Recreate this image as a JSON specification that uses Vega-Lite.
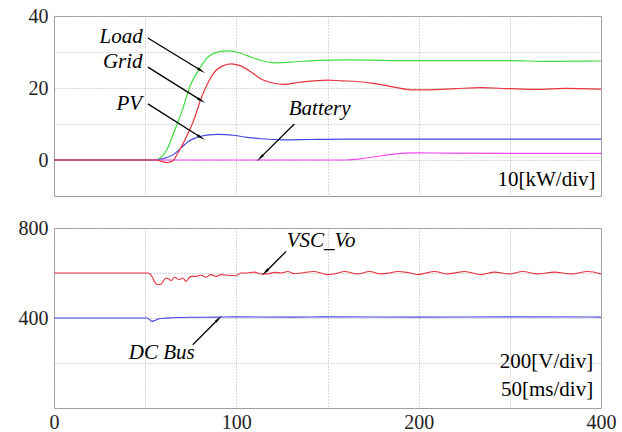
{
  "$schema": "https://vega.github.io/schema/vega-lite/v6.json",
  "resolve": {"scale": {"color": "independent"}},
  "datasets": {
    "power": [
      {"series": "Load", "t": 0, "v": 0}, {"series": "Load", "t": 55, "v": 0}, {"series": "Load", "t": 58, "v": 0.5}, {"series": "Load", "t": 62, "v": 3}, {"series": "Load", "t": 66, "v": 8}, {"series": "Load", "t": 70, "v": 13.3}, {"series": "Load", "t": 75, "v": 21}, {"series": "Load", "t": 80, "v": 25.5}, {"series": "Load", "t": 84, "v": 28.4}, {"series": "Load", "t": 88, "v": 29.7}, {"series": "Load", "t": 95, "v": 30.3}, {"series": "Load", "t": 100, "v": 30.0}, {"series": "Load", "t": 106, "v": 29}, {"series": "Load", "t": 113, "v": 27.7}, {"series": "Load", "t": 121, "v": 27.0}, {"series": "Load", "t": 130, "v": 27.2}, {"series": "Load", "t": 146, "v": 27.7}, {"series": "Load", "t": 160, "v": 27.8}, {"series": "Load", "t": 200, "v": 27.6}, {"series": "Load", "t": 250, "v": 27.6}, {"series": "Load", "t": 270, "v": 27.4}, {"series": "Load", "t": 300, "v": 27.5},
      {"series": "PV", "t": 0, "v": 0}, {"series": "PV", "t": 56, "v": 0}, {"series": "PV", "t": 60, "v": 0.4}, {"series": "PV", "t": 66, "v": 1.7}, {"series": "PV", "t": 70, "v": 3.5}, {"series": "PV", "t": 73.3, "v": 5}, {"series": "PV", "t": 77, "v": 6}, {"series": "PV", "t": 80.6, "v": 6.6}, {"series": "PV", "t": 85, "v": 7}, {"series": "PV", "t": 90, "v": 7.1}, {"series": "PV", "t": 99, "v": 6.8}, {"series": "PV", "t": 106, "v": 6.3}, {"series": "PV", "t": 113.5, "v": 5.9}, {"series": "PV", "t": 126, "v": 5.6}, {"series": "PV", "t": 140, "v": 5.7}, {"series": "PV", "t": 160, "v": 5.8}, {"series": "PV", "t": 200, "v": 5.8}, {"series": "PV", "t": 300, "v": 5.8},
      {"series": "Battery", "t": 0, "v": 0}, {"series": "Battery", "t": 160, "v": 0}, {"series": "Battery", "t": 168, "v": 0.3}, {"series": "Battery", "t": 176, "v": 0.9}, {"series": "Battery", "t": 184, "v": 1.5}, {"series": "Battery", "t": 192, "v": 1.9}, {"series": "Battery", "t": 200, "v": 2.0}, {"series": "Battery", "t": 215, "v": 1.9}, {"series": "Battery", "t": 250, "v": 1.85}, {"series": "Battery", "t": 300, "v": 1.85},
      {"series": "Grid", "t": 0, "v": 0}, {"series": "Grid", "t": 56, "v": 0}, {"series": "Grid", "t": 59, "v": -0.4}, {"series": "Grid", "t": 62, "v": -0.7}, {"series": "Grid", "t": 65, "v": -0.3}, {"series": "Grid", "t": 68, "v": 2}, {"series": "Grid", "t": 73, "v": 6.9}, {"series": "Grid", "t": 77, "v": 11.5}, {"series": "Grid", "t": 80.6, "v": 17}, {"series": "Grid", "t": 84, "v": 21}, {"series": "Grid", "t": 88, "v": 24.4}, {"series": "Grid", "t": 92, "v": 26}, {"series": "Grid", "t": 97, "v": 26.7}, {"series": "Grid", "t": 102, "v": 26.2}, {"series": "Grid", "t": 108, "v": 24.5}, {"series": "Grid", "t": 113.5, "v": 22.5}, {"series": "Grid", "t": 120, "v": 21.4}, {"series": "Grid", "t": 126, "v": 21}, {"series": "Grid", "t": 135, "v": 21.6}, {"series": "Grid", "t": 150, "v": 22.2}, {"series": "Grid", "t": 158, "v": 22.0}, {"series": "Grid", "t": 166, "v": 21.8}, {"series": "Grid", "t": 175, "v": 21.3}, {"series": "Grid", "t": 181, "v": 20.8}, {"series": "Grid", "t": 188, "v": 20.1}, {"series": "Grid", "t": 196, "v": 19.5}, {"series": "Grid", "t": 205, "v": 19.5}, {"series": "Grid", "t": 220, "v": 19.8}, {"series": "Grid", "t": 234, "v": 20.1}, {"series": "Grid", "t": 250, "v": 19.8}, {"series": "Grid", "t": 265, "v": 19.6}, {"series": "Grid", "t": 280, "v": 19.9}, {"series": "Grid", "t": 300, "v": 19.7}
    ],
    "voltage": [
      {"series": "DC Bus", "t": 0, "v": 400}, {"series": "DC Bus", "t": 51, "v": 400}, {"series": "DC Bus", "t": 52.5, "v": 392}, {"series": "DC Bus", "t": 53.5, "v": 385}, {"series": "DC Bus", "t": 55, "v": 388}, {"series": "DC Bus", "t": 57, "v": 395}, {"series": "DC Bus", "t": 60, "v": 399}, {"series": "DC Bus", "t": 65, "v": 401}, {"series": "DC Bus", "t": 75, "v": 403}, {"series": "DC Bus", "t": 90, "v": 404}, {"series": "DC Bus", "t": 100, "v": 405}, {"series": "DC Bus", "t": 130, "v": 404}, {"series": "DC Bus", "t": 150, "v": 405}, {"series": "DC Bus", "t": 200, "v": 404}, {"series": "DC Bus", "t": 250, "v": 405}, {"series": "DC Bus", "t": 300, "v": 404},
      {"series": "VSC_Vo", "t": 0, "v": 600}, {"series": "VSC_Vo", "t": 51, "v": 600}, {"series": "VSC_Vo", "t": 52.3, "v": 598}, {"series": "VSC_Vo", "t": 54, "v": 580}, {"series": "VSC_Vo", "t": 55.5, "v": 556}, {"series": "VSC_Vo", "t": 57, "v": 548}, {"series": "VSC_Vo", "t": 58.7, "v": 550}, {"series": "VSC_Vo", "t": 60, "v": 565}, {"series": "VSC_Vo", "t": 61.4, "v": 578}, {"series": "VSC_Vo", "t": 62.8, "v": 574}, {"series": "VSC_Vo", "t": 64.2, "v": 566}, {"series": "VSC_Vo", "t": 66, "v": 581}, {"series": "VSC_Vo", "t": 67.5, "v": 575}, {"series": "VSC_Vo", "t": 68.7, "v": 570}, {"series": "VSC_Vo", "t": 70.6, "v": 578}, {"series": "VSC_Vo", "t": 72.4, "v": 563}, {"series": "VSC_Vo", "t": 74, "v": 578}, {"series": "VSC_Vo", "t": 75.2, "v": 585}, {"series": "VSC_Vo", "t": 77.9, "v": 585}, {"series": "VSC_Vo", "t": 80.6, "v": 590}, {"series": "VSC_Vo", "t": 83.4, "v": 581}, {"series": "VSC_Vo", "t": 86.1, "v": 593}, {"series": "VSC_Vo", "t": 88.9, "v": 585}, {"series": "VSC_Vo", "t": 91.6, "v": 593}, {"series": "VSC_Vo", "t": 95.3, "v": 590}, {"series": "VSC_Vo", "t": 99.8, "v": 588}, {"series": "VSC_Vo", "t": 102.6, "v": 600}, {"series": "VSC_Vo", "t": 106.2, "v": 600}, {"series": "VSC_Vo", "t": 109.9, "v": 604}, {"series": "VSC_Vo", "t": 113.5, "v": 596}, {"series": "VSC_Vo", "t": 117.2, "v": 596}, {"series": "VSC_Vo", "t": 120.8, "v": 603}, {"series": "VSC_Vo", "t": 124.5, "v": 600}, {"series": "VSC_Vo", "t": 128.2, "v": 607}, {"series": "VSC_Vo", "t": 131.8, "v": 597}, {"series": "VSC_Vo", "t": 135.5, "v": 600}, {"series": "VSC_Vo", "t": 142.8, "v": 607}, {"series": "VSC_Vo", "t": 150.1, "v": 593}, {"series": "VSC_Vo", "t": 155, "v": 598}, {"series": "VSC_Vo", "t": 159.3, "v": 607}, {"series": "VSC_Vo", "t": 166.6, "v": 596}, {"series": "VSC_Vo", "t": 173, "v": 607}, {"series": "VSC_Vo", "t": 179.4, "v": 596}, {"series": "VSC_Vo", "t": 184, "v": 600}, {"series": "VSC_Vo", "t": 188.5, "v": 607}, {"series": "VSC_Vo", "t": 194, "v": 602}, {"series": "VSC_Vo", "t": 199.5, "v": 593}, {"series": "VSC_Vo", "t": 204, "v": 600}, {"series": "VSC_Vo", "t": 208.6, "v": 607}, {"series": "VSC_Vo", "t": 216, "v": 596}, {"series": "VSC_Vo", "t": 221, "v": 602}, {"series": "VSC_Vo", "t": 225.1, "v": 607}, {"series": "VSC_Vo", "t": 234.2, "v": 593}, {"series": "VSC_Vo", "t": 241.5, "v": 604}, {"series": "VSC_Vo", "t": 249.8, "v": 596}, {"series": "VSC_Vo", "t": 257.1, "v": 607}, {"series": "VSC_Vo", "t": 265.3, "v": 596}, {"series": "VSC_Vo", "t": 274.4, "v": 604}, {"series": "VSC_Vo", "t": 283.6, "v": 596}, {"series": "VSC_Vo", "t": 292.8, "v": 607}, {"series": "VSC_Vo", "t": 300, "v": 596}
    ],
    "topArrows": [
      {"name": "Load", "t": 51.5, "v": 33.9, "t2": 80.2, "v2": 25.0, "heading": 122},
      {"name": "Grid", "t": 51.5, "v": 25.8, "t2": 80.2, "v2": 16.7, "heading": 122},
      {"name": "PV", "t": 51.5, "v": 15.6, "t2": 80.2, "v2": 6.4, "heading": 122},
      {"name": "Battery", "t": 131.8, "v": 10, "t2": 113.5, "v2": 0.8, "heading": 225}
    ],
    "bottomArrows": [
      {"name": "VSC_Vo", "t": 127.3, "v": 696, "t2": 116.3, "v2": 607, "heading": 225},
      {"name": "DC Bus", "t": 76.1, "v": 281, "t2": 89.8, "v2": 392, "heading": 45}
    ],
    "topNotes": [
      {"text": "Load", "t": 36.8, "v": 34.2},
      {"text": "Grid", "t": 37.7, "v": 27.2},
      {"text": "PV", "t": 41.3, "v": 15.6},
      {"text": "Battery", "t": 145.7, "v": 14.3}
    ],
    "bottomNotes": [
      {"text": "VSC_Vo", "t": 146.5, "v": 741},
      {"text": "DC Bus", "t": 59.1, "v": 244}
    ],
    "topUnits": [
      {"text": "10[kW/div]", "t": 297, "v": -5.6}
    ],
    "bottomUnits": [
      {"text": "200[V/div]", "t": 295.7, "v": 204},
      {"text": "50[ms/div]", "t": 295.7, "v": 78}
    ]
  },
  "vconcat": [
    {
      "width": 547,
      "height": 180,
      "view": {"stroke": "#a0a0a0", "strokeWidth": 1},
      "encoding": {
        "x": {"field": "t", "type": "quantitative", "scale": {"domain": [0, 300], "nice": false, "zero": false}, "axis": {"title": null, "values": [50, 100, 150, 200, 250], "labels": false, "ticks": false, "domain": false, "grid": true, "gridColor": "#b0b0b0", "gridDash": [1, 2], "gridWidth": 1}},
        "y": {"field": "v", "type": "quantitative", "scale": {"domain": [-10, 40], "nice": false, "zero": false}, "axis": {"title": null, "values": [0, 10, 20, 30, 40], "labelExpr": "datum.value % 20 == 0 ? datum.label : ''", "labelPadding": 6, "minExtent": 48, "labelFont": "Liberation Serif", "labelFontSize": 20, "labelColor": "#222222", "labelOverlap": false, "labelBound": false, "labelFlush": false, "ticks": false, "domain": false, "grid": true, "gridColor": "#b0b0b0", "gridDash": [1, 2], "gridWidth": 1}}
      },
      "layer": [
        {
          "data": {"name": "power"},
          "mark": {"type": "line", "strokeWidth": 1.2, "interpolate": "monotone"},
          "encoding": {
            "color": {"field": "series", "type": "nominal", "scale": {"domain": ["Load", "PV", "Battery", "Grid"], "range": ["#40dc40", "#4646e0", "#f048f0", "#e8323c"]}, "legend": null}
          }
        },
        {
          "data": {"name": "topArrows"},
          "mark": {"type": "rule", "color": "black", "strokeWidth": 1.3},
          "encoding": {"x2": {"field": "t2"}, "y2": {"field": "v2"}}
        },
        {
          "data": {"name": "topArrows"},
          "mark": {"type": "point", "shape": "wedge", "filled": true, "color": "black", "opacity": 1, "size": 110},
          "encoding": {"x": {"field": "t2", "type": "quantitative"}, "y": {"field": "v2", "type": "quantitative"}, "angle": {"field": "heading", "type": "quantitative", "scale": null}}
        },
        {
          "data": {"name": "topNotes"},
          "mark": {"type": "text", "font": "Liberation Serif", "fontStyle": "italic", "fontSize": 21, "align": "center", "baseline": "middle", "color": "black"},
          "encoding": {"text": {"field": "text"}}
        },
        {
          "data": {"name": "topUnits"},
          "mark": {"type": "text", "font": "Liberation Serif", "fontSize": 21, "align": "right", "baseline": "middle", "color": "black"},
          "encoding": {"text": {"field": "text"}}
        }
      ]
    },
    {
      "width": 547,
      "height": 180,
      "view": {"stroke": "#a0a0a0", "strokeWidth": 1},
      "encoding": {
        "x": {"field": "t", "type": "quantitative", "scale": {"domain": [0, 300], "nice": false, "zero": false}, "axis": {"title": null, "values": [0, 50, 100, 150, 200, 250, 300], "labelExpr": "datum.value == 300 ? '400' : (datum.value % 100 == 0 ? datum.label : '')", "labelPadding": 4, "labelFont": "Liberation Serif", "labelFontSize": 20, "labelColor": "#222222", "labelOverlap": false, "labelBound": false, "labelFlush": false, "ticks": false, "domain": false, "grid": true, "gridColor": "#b0b0b0", "gridDash": [1, 2], "gridWidth": 1}},
        "y": {"field": "v", "type": "quantitative", "scale": {"domain": [0, 800], "nice": false, "zero": false}, "axis": {"title": null, "values": [200, 400, 600, 800], "labelExpr": "datum.value % 400 == 0 ? datum.label : ''", "labelPadding": 6, "minExtent": 48, "labelFont": "Liberation Serif", "labelFontSize": 20, "labelColor": "#222222", "labelOverlap": false, "labelBound": false, "labelFlush": false, "ticks": false, "domain": false, "grid": true, "gridColor": "#b0b0b0", "gridDash": [1, 2], "gridWidth": 1}}
      },
      "layer": [
        {
          "data": {"name": "voltage"},
          "mark": {"type": "line", "strokeWidth": 1.1, "interpolate": "monotone"},
          "encoding": {
            "color": {"field": "series", "type": "nominal", "scale": {"domain": ["DC Bus", "VSC_Vo"], "range": ["#4646e0", "#e8323c"]}, "legend": null}
          }
        },
        {
          "data": {"name": "bottomArrows"},
          "mark": {"type": "rule", "color": "black", "strokeWidth": 1.3},
          "encoding": {"x2": {"field": "t2"}, "y2": {"field": "v2"}}
        },
        {
          "data": {"name": "bottomArrows"},
          "mark": {"type": "point", "shape": "wedge", "filled": true, "color": "black", "opacity": 1, "size": 110},
          "encoding": {"x": {"field": "t2", "type": "quantitative"}, "y": {"field": "v2", "type": "quantitative"}, "angle": {"field": "heading", "type": "quantitative", "scale": null}}
        },
        {
          "data": {"name": "bottomNotes"},
          "mark": {"type": "text", "font": "Liberation Serif", "fontStyle": "italic", "fontSize": 21, "align": "center", "baseline": "middle", "color": "black"},
          "encoding": {"text": {"field": "text"}}
        },
        {
          "data": {"name": "bottomUnits"},
          "mark": {"type": "text", "font": "Liberation Serif", "fontSize": 21, "align": "right", "baseline": "middle", "color": "black"},
          "encoding": {"text": {"field": "text"}}
        }
      ]
    }
  ]
}
